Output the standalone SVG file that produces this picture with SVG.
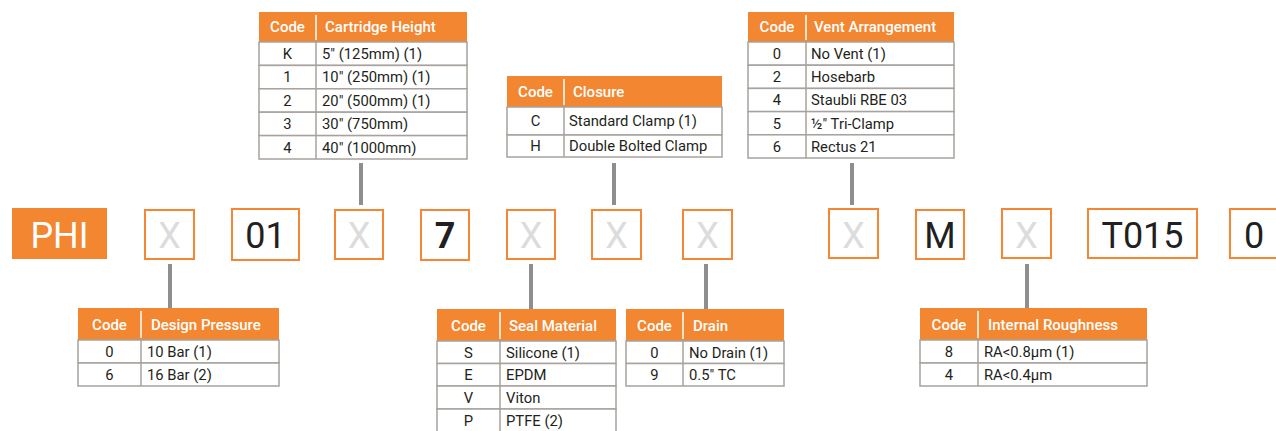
<svg xmlns="http://www.w3.org/2000/svg" width="1276" height="431" viewBox="0 0 1276 431">
<style>
  .hd { fill: #F38630; }
  .hdt { font-family: Roboto, "Liberation Sans", sans-serif; font-size: 15px; font-weight: 500; fill: #ffffff; }
  .hdv { stroke: #ffffff; stroke-width: 1.5; }
  .row { fill: #ffffff; stroke: #a7a29d; stroke-width: 1.5; }
  .cv { stroke: #a7a29d; stroke-width: 1.5; }
  .t { font-family: Roboto, "Liberation Sans", sans-serif; font-size: 14.8px; fill: #231f20; }
  .c { text-anchor: middle; }
  .box { fill: #ffffff; stroke: #F58634; stroke-width: 2; }
  .big { font-family: Roboto, "Liberation Sans", sans-serif; font-size: 36px; fill: #231f20; text-anchor: middle; }
  .x { fill: #dcdcdc; }
  .conn { stroke: #8e8e8e; stroke-width: 4; }
</style>
<rect width="1276" height="431" fill="#ffffff"/>

<g id="connectors">
  <line class="conn" x1="170" y1="264" x2="170" y2="308"/>
  <line class="conn" x1="361" y1="163" x2="361" y2="205"/>
  <line class="conn" x1="531" y1="264" x2="531" y2="309"/>
  <line class="conn" x1="614" y1="163" x2="614" y2="205"/>
  <line class="conn" x1="706" y1="264" x2="706" y2="309"/>
  <line class="conn" x1="852" y1="163" x2="852" y2="205"/>
  <line class="conn" x1="1027" y1="264" x2="1027" y2="308"/>
</g>

<g id="code-row">
  <g id="box-phi"><rect x="12" y="208" width="95" height="51" fill="#F38630"/><text class="big" x="59.5" y="248" style="fill:#ffffff">PHI</text></g>
  <g id="box-x1"><rect class="box" x="145" y="210" width="49" height="49"/><text class="big x" x="169.5" y="248">X</text></g>
  <g id="box-01"><rect class="box" x="232" y="209" width="67" height="51"/><text class="big" x="265.5" y="248">01</text></g>
  <g id="box-x2"><rect class="box" x="335" y="210" width="48" height="49"/><text class="big x" x="359" y="248">X</text></g>
  <g id="box-7"><rect class="box" x="421" y="210" width="48" height="50"/><text class="big" x="445" y="248" font-weight="700">7</text></g>
  <g id="box-x3"><rect class="box" x="507" y="210" width="48" height="49"/><text class="big x" x="531" y="248">X</text></g>
  <g id="box-x4"><rect class="box" x="592" y="210" width="49" height="49"/><text class="big x" x="616.5" y="248">X</text></g>
  <g id="box-x5"><rect class="box" x="683" y="210" width="49" height="49"/><text class="big x" x="707.5" y="248">X</text></g>
  <g id="box-x6"><rect class="box" x="829" y="209" width="49" height="49"/><text class="big x" x="853.5" y="248">X</text></g>
  <g id="box-m"><rect class="box" x="916" y="210" width="48" height="49"/><text class="big" x="940" y="248">M</text></g>
  <g id="box-x7"><rect class="box" x="1002" y="209" width="49" height="49"/><text class="big x" x="1026.5" y="248">X</text></g>
  <g id="box-t015"><rect class="box" x="1088" y="209" width="109" height="49"/><text class="big" x="1142.5" y="248">T015</text></g>
  <g id="box-0"><rect class="box" x="1230" y="209" width="52" height="49"/><text class="big" x="1254" y="248">0</text></g>
</g>

<g id="table-cartridge-height">
  <rect class="hd" x="259" y="12" width="208" height="30"/>
  <line class="hdv" x1="316" y1="15" x2="316" y2="40"/>
  <text class="hdt c" x="287.5" y="32">Code</text>
  <text class="hdt" x="325" y="32">Cartridge Height</text>
  <rect class="row" x="259" y="42" width="208" height="23.4"/>
  <rect class="row" x="259" y="65.4" width="208" height="23.4"/>
  <rect class="row" x="259" y="88.8" width="208" height="23.4"/>
  <rect class="row" x="259" y="112.2" width="208" height="23.4"/>
  <rect class="row" x="259" y="135.6" width="208" height="23.4"/>
  <line class="cv" x1="316" y1="42" x2="316" y2="159"/>
  <text class="t c" x="287.5" y="59">K</text><text class="t" x="322" y="59">5" (125mm) (1)</text>
  <text class="t c" x="287.5" y="82.4">1</text><text class="t" x="322" y="82.4">10" (250mm) (1)</text>
  <text class="t c" x="287.5" y="105.8">2</text><text class="t" x="322" y="105.8">20" (500mm) (1)</text>
  <text class="t c" x="287.5" y="129.2">3</text><text class="t" x="322" y="129.2">30" (750mm)</text>
  <text class="t c" x="287.5" y="152.6">4</text><text class="t" x="322" y="152.6">40" (1000mm)</text>
</g>

<g id="table-closure">
  <rect class="hd" x="507" y="76" width="215" height="31"/>
  <line class="hdv" x1="564" y1="79" x2="564" y2="105"/>
  <text class="hdt c" x="535.5" y="97">Code</text>
  <text class="hdt" x="573" y="97">Closure</text>
  <rect class="row" x="507" y="107" width="215" height="28"/>
  <rect class="row" x="507" y="135" width="215" height="22"/>
  <line class="cv" x1="564" y1="107" x2="564" y2="157"/>
  <text class="t c" x="535.5" y="126">C</text><text class="t" x="569" y="126">Standard Clamp (1)</text>
  <text class="t c" x="535.5" y="151">H</text><text class="t" x="569" y="151">Double Bolted Clamp</text>
</g>

<g id="table-vent-arrangement">
  <rect class="hd" x="748" y="12" width="206" height="30"/>
  <line class="hdv" x1="806" y1="15" x2="806" y2="40"/>
  <text class="hdt c" x="777" y="32">Code</text>
  <text class="hdt" x="814" y="32">Vent Arrangement</text>
  <rect class="row" x="748" y="42" width="206" height="23.2"/>
  <rect class="row" x="748" y="65.2" width="206" height="23.2"/>
  <rect class="row" x="748" y="88.4" width="206" height="23.2"/>
  <rect class="row" x="748" y="111.6" width="206" height="23.2"/>
  <rect class="row" x="748" y="134.8" width="206" height="23.2"/>
  <line class="cv" x1="806" y1="42" x2="806" y2="158"/>
  <text class="t c" x="777" y="59">0</text><text class="t" x="811" y="59">No Vent (1)</text>
  <text class="t c" x="777" y="82.2">2</text><text class="t" x="811" y="82.2">Hosebarb</text>
  <text class="t c" x="777" y="105.4">4</text><text class="t" x="811" y="105.4">Staubli RBE 03</text>
  <text class="t c" x="777" y="128.6">5</text><text class="t" x="811" y="128.6">½" Tri-Clamp</text>
  <text class="t c" x="777" y="151.8">6</text><text class="t" x="811" y="151.8">Rectus 21</text>
</g>

<g id="table-design-pressure">
  <rect class="hd" x="78" y="308" width="201" height="32"/>
  <line class="hdv" x1="141" y1="311" x2="141" y2="338"/>
  <text class="hdt c" x="109.5" y="329.5">Code</text>
  <text class="hdt" x="151" y="329.5">Design Pressure</text>
  <rect class="row" x="78" y="340" width="201" height="23"/>
  <rect class="row" x="78" y="363" width="201" height="23"/>
  <line class="cv" x1="141" y1="340" x2="141" y2="386"/>
  <text class="t c" x="109.5" y="356.5">0</text><text class="t" x="147" y="356.5">10 Bar (1)</text>
  <text class="t c" x="109.5" y="379.5">6</text><text class="t" x="147" y="379.5">16 Bar (2)</text>
</g>

<g id="table-seal-material">
  <rect class="hd" x="437" y="309" width="179" height="32"/>
  <line class="hdv" x1="500" y1="312" x2="500" y2="339"/>
  <text class="hdt c" x="468.5" y="330.5">Code</text>
  <text class="hdt" x="509" y="330.5">Seal Material</text>
  <rect class="row" x="437" y="341" width="179" height="22.5"/>
  <rect class="row" x="437" y="363.5" width="179" height="22.5"/>
  <rect class="row" x="437" y="386" width="179" height="23"/>
  <rect class="row" x="437" y="409" width="179" height="26"/>
  <line class="cv" x1="500" y1="341" x2="500" y2="435"/>
  <text class="t c" x="468.5" y="357.5">S</text><text class="t" x="506" y="357.5">Silicone (1)</text>
  <text class="t c" x="468.5" y="380">E</text><text class="t" x="506" y="380">EPDM</text>
  <text class="t c" x="468.5" y="402.5">V</text><text class="t" x="506" y="402.5">Viton</text>
  <text class="t c" x="468.5" y="425.5">P</text><text class="t" x="506" y="425.5">PTFE (2)</text>
</g>

<g id="table-drain">
  <rect class="hd" x="626" y="309" width="158" height="32"/>
  <line class="hdv" x1="683" y1="312" x2="683" y2="339"/>
  <text class="hdt c" x="654.5" y="330.5">Code</text>
  <text class="hdt" x="693" y="330.5">Drain</text>
  <rect class="row" x="626" y="341" width="158" height="22.5"/>
  <rect class="row" x="626" y="363.5" width="158" height="22.5"/>
  <line class="cv" x1="683" y1="341" x2="683" y2="386"/>
  <text class="t c" x="654.5" y="357.5">0</text><text class="t" x="689" y="357.5">No Drain (1)</text>
  <text class="t c" x="654.5" y="380">9</text><text class="t" x="689" y="380">0.5" TC</text>
</g>

<g id="table-internal-roughness">
  <rect class="hd" x="920" y="308" width="227" height="32"/>
  <line class="hdv" x1="978" y1="311" x2="978" y2="338"/>
  <text class="hdt c" x="949" y="329.5">Code</text>
  <text class="hdt" x="988" y="329.5">Internal Roughness</text>
  <rect class="row" x="920" y="340" width="227" height="23"/>
  <rect class="row" x="920" y="363" width="227" height="23"/>
  <line class="cv" x1="978" y1="340" x2="978" y2="386"/>
  <text class="t c" x="949" y="356.5">8</text><text class="t" x="984" y="356.5">RA&lt;0.8µm (1)</text>
  <text class="t c" x="949" y="379.5">4</text><text class="t" x="984" y="379.5">RA&lt;0.4µm</text>
</g>
</svg>
